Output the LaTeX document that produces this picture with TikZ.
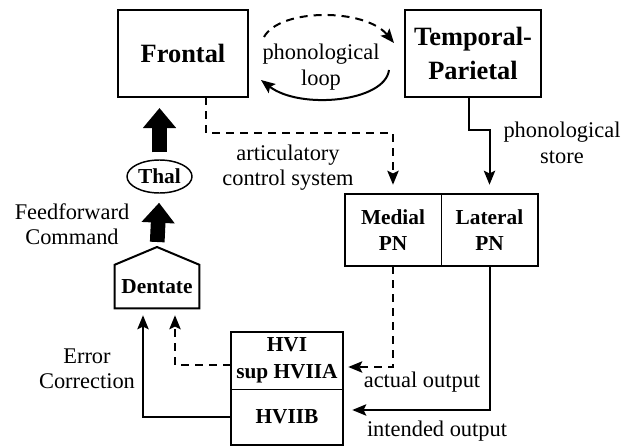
\documentclass[tikz,border=0pt]{standalone}
\usepackage{fontspec}
\setmainfont{Liberation Serif}
\usetikzlibrary{arrows.meta}
\usetikzlibrary{calc}
\usetikzlibrary{shapes.geometric}

\newcommand{\regionfont}{\fontsize{19.8}{26}\selectfont\bfseries}
\newcommand{\nucfont}{\fontsize{16}{20}\selectfont\bfseries}
\newcommand{\notefont}{\fontsize{16.8}{19}\selectfont}

\tikzset{
  region/.style={draw, line width=1.5pt, inner sep=0pt, align=center, font=\regionfont},
  nucleus/.style={inner sep=0pt, align=center, font=\nucfont},
  note/.style={inner sep=0pt, align=center, font=\notefont},
  link/.style={line width=1.5pt, -{Stealth[length=10.5pt,width=8.5pt,inset=2pt]}},
  dashlink/.style={link, dash pattern=on 6pt off 4.5pt},
  blockarrow/.style={line width=11pt, -{Triangle[length=15pt,width=24pt]}}
}

\begin{document}
\begin{tikzpicture}[x=0.75pt,y=0.75pt,yscale=-1,xscale=1]
\useasboundingbox (0,0) rectangle (632,446);

%Shape: Rectangle [Frontal]
\node [region, minimum width=97.5pt, minimum height=65.25pt] (frontal) at (183,53.5) {Frontal};

%Shape: Rectangle [Temporal-Parietal]
\node [region, minimum width=102pt, minimum height=65.25pt] (temporal) at (473,53.5) {Temporal-\\Parietal};

%Shape: Rectangle [PN]
\node [nucleus, minimum width=72pt, minimum height=54pt] (medial) at (393,230) {Medial\\PN};
\node [nucleus, minimum width=72.75pt, minimum height=54pt] (lateral) at (489.5,230) {Lateral\\PN};
\draw [line width=1.5pt] (medial.north west) rectangle (lateral.south east);
\draw [line width=0.75pt] (medial.north east) -- (medial.south east);

%Shape: Rectangle [HVI]
\node [nucleus, minimum width=84pt, minimum height=42.75pt] (hviA) at (287,360.5) {HVI\\sup HVIIA};
\node [nucleus, minimum width=84pt, minimum height=42pt] (hviB) at (287,417) {HVIIB};
\draw [line width=1.5pt] (hviA.north west) rectangle (hviB.south east);
\draw [line width=0.75pt] (hviA.south west) -- (hviA.south east);

%Shape: Ellipse [Thal]
\node [nucleus, draw, ellipse, line width=1.1pt, minimum width=48.75pt, minimum height=24.75pt] (thal) at (159.5,176.5) {Thal};

%Shape: House [Dentate]
\node [nucleus, minimum width=63pt, minimum height=32.25pt] (dentate) at (157,286.5) {Dentate};
\coordinate (dentpeak) at (157,247);
\draw [line width=1.5pt, line join=miter] (dentate.south west) -- (dentate.north west) -- (dentpeak) -- (dentate.north east) -- (dentate.south east) -- cycle;

%Block arrows
\draw [blockarrow, shorten <=3.75pt, shorten >=6.75pt] (dentpeak) -- (thal.south);
\draw [blockarrow, shorten <=5.25pt, shorten >=7.5pt] (thal.north) -- (thal.north |- frontal.south);

%Phonological loop
\draw [dashlink] ($(frontal.east)+(15,-16.5)$) .. controls (280,8) and (365,8) .. ($(temporal.west)+(-10,-10.5)$);
\draw [link] ($(temporal.west)+(-15,16.5)$) .. controls (385,102) and (300,110) .. ($(frontal.east)+(12,26.5)$);

%Articulatory control system
\coordinate (frontout) at (206,97);
\draw [dashlink, shorten >=6.75pt] (frontout) -- ++(0,36) -| (medial.north);

%Phonological store
\coordinate (tempout) at (469,97);
\draw [link, shorten >=6.75pt] (tempout) -- ++(0,33) -| (lateral.north);

%Outputs into HVI
\draw [dashlink, shorten >=3.75pt] (medial.south) |- ($(hviA.east)+(0,6.5)$);
\draw [link, shorten >=6.75pt] (lateral.south) |- ($(hviB.east)+(0,-7)$);

%Back to Dentate
\draw [dashlink, shorten >=5.25pt] ($(hviA.west)+(0,4.5)$) -| ($(dentate.south)+(18,0)$);
\draw [link, shorten >=5.25pt] (hviB.west) -| ($(dentate.south)+(-14,0)$);

% Text Node
\node [note] (looplbl) at (321,67) {phonological\\loop};
% Text Node
\node [note] (articlbl) at (288,167.5) {articulatory\\control system};
% Text Node
\node [note] (storelbl) at (562,143) {phonological\\store};
% Text Node
\node [note] (feedlbl) at (72,224.5) {Feedforward\\Command};
% Text Node
\node [note] (errorlbl) at (87,368.5) {Error\\Correction};
% Text Node
\node [note] (actuallbl) at (422,382) {actual output};
% Text Node
\node [note] (intendlbl) at (437,431) {intended output};

\end{tikzpicture}
\end{document}
